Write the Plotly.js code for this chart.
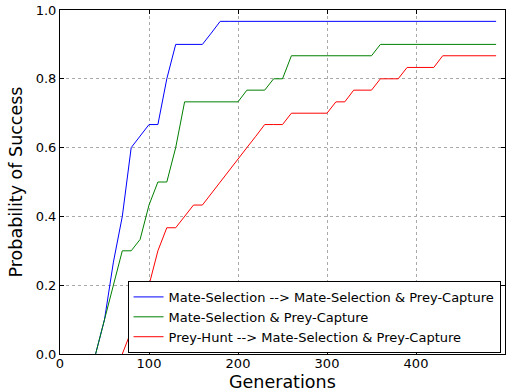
<!DOCTYPE html>
<html>
<head>
<meta charset="utf-8">
<script src="https://cdn.plot.ly/plotly-3.0.1.min.js"></script>
<style>html,body{margin:0;padding:0;background:#fff;}#chart{width:514px;height:391px;}</style>
</head>
<body>
<div id="chart"></div>
<script>
const generations = [40,50,60,70,80,90,100,110,120,130,140,150,160,170,180,190,200,210,220,230,240,250,260,270,280,290,300,310,320,330,340,350,360,370,380,390,400,410,420,430,440,450,460,470,480,490];
const mateThenBoth = [0,0.1,0.267,0.4,0.6,0.633,0.667,0.667,0.8,0.9,0.9,0.9,0.9,0.933,0.967,0.967,0.967,0.967,0.967,0.967,0.967,0.967,0.967,0.967,0.967,0.967,0.967,0.967,0.967,0.967,0.967,0.967,0.967,0.967,0.967,0.967,0.967,0.967,0.967,0.967,0.967,0.967,0.967,0.967,0.967,0.967];
const bothOnly = [0,0.1,0.2,0.3,0.3,0.333,0.433,0.5,0.5,0.6,0.733,0.733,0.733,0.733,0.733,0.733,0.733,0.767,0.767,0.767,0.8,0.8,0.867,0.867,0.867,0.867,0.867,0.867,0.867,0.867,0.867,0.867,0.9,0.9,0.9,0.9,0.9,0.9,0.9,0.9,0.9,0.9,0.9,0.9,0.9,0.9];
const preyGenerations = [70,80,90,100,110,120,130,140,150,160,170,180,190,200,210,220,230,240,250,260,270,280,290,300,310,320,330,340,350,360,370,380,390,400,410,420,430,440,450,460,470,480,490];
const preyThenBoth = [0,0.067,0.133,0.2,0.3,0.367,0.367,0.4,0.433,0.433,0.467,0.5,0.533,0.567,0.6,0.633,0.667,0.667,0.667,0.7,0.7,0.7,0.7,0.7,0.733,0.733,0.767,0.767,0.767,0.8,0.8,0.8,0.833,0.833,0.833,0.833,0.867,0.867,0.867,0.867,0.867,0.867,0.867];
const seriesNames = ["Mate-Selection --> Mate-Selection & Prey-Capture","Mate-Selection & Prey-Capture","Prey-Hunt --> Mate-Selection & Prey-Capture"];
const xTicks = [0,100,200,300,400,500];
const yTicks = [0,0.2,0.4,0.6,0.8,1.0];
const xTitle = "Generations";
const yTitle = "Probability of Success";

const font = "DejaVu Sans, sans-serif";
const traces = [
  {x: generations, y: mateThenBoth, name: seriesNames[0], mode: "lines", line: {color: "#0000ff", width: 1}},
  {x: generations, y: bothOnly, name: seriesNames[1], mode: "lines", line: {color: "#008000", width: 1}},
  {x: preyGenerations, y: preyThenBoth, name: seriesNames[2], mode: "lines", line: {color: "#ff0000", width: 1}}
];
const axisCommon = {
  showline: true, linecolor: "#000", linewidth: 1, mirror: "allticks",
  ticks: "inside", ticklen: 4, tickcolor: "#000",
  showgrid: true, gridcolor: "#aaa", griddash: "dot", gridwidth: 1,
  zeroline: false, tickfont: {family: font, size: 13, color: "#000"}
};
const layout = {
  width: 514, height: 391,
  margin: {l: 60, r: 9, t: 10, b: 37},
  paper_bgcolor: "#fff", plot_bgcolor: "#fff",
  font: {family: font, color: "#000"},
  showlegend: true,
  xaxis: Object.assign({}, axisCommon, {
    range: [0, 500], tickvals: xTicks, ticktext: xTicks.map(String),
    ticklabelstandoff: -3
  }),
  yaxis: Object.assign({}, axisCommon, {
    range: [0, 1], tickvals: yTicks, ticktext: yTicks.map(v => v.toFixed(1)),
    title: {text: yTitle, font: {family: font, size: 17.5}, standoff: 8}
  }),
  annotations: [{
    text: xTitle, xref: "paper", yref: "paper", x: 0.5, y: 0,
    xanchor: "center", yanchor: "middle", yshift: -28, showarrow: false,
    font: {family: font, size: 17.5, color: "#000"}
  }],
  legend: {
    x: 0.99, y: 0.003, xanchor: "right", yanchor: "bottom",
    bgcolor: "#fff", bordercolor: "#000", borderwidth: 1,
    font: {family: font, size: 13, color: "#000"}
  }
};
Plotly.newPlot("chart", traces, layout, {staticPlot: true, displayModeBar: false});
</script>
</body>
</html>
